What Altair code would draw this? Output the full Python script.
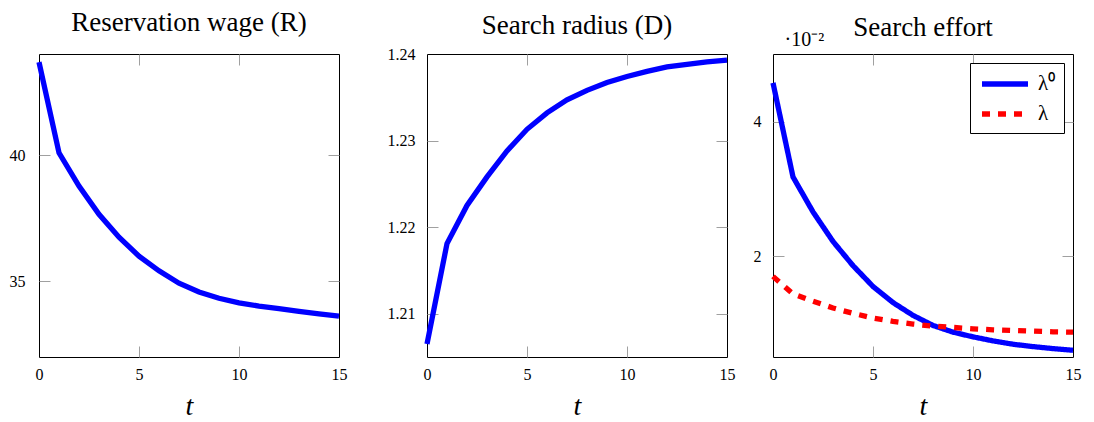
import altair as alt
import pandas as pd

# ---- data ----
t = list(range(16))
reservation_wage = [43.7, 40.1, 38.78, 37.66, 36.75, 36.0, 35.42, 34.93,
                    34.58, 34.33, 34.15, 34.02, 33.92, 33.81, 33.71, 33.62]
search_radius = [1.2065, 1.2181, 1.2225, 1.2258, 1.2288, 1.2313, 1.2332, 1.2347,
                 1.2358, 1.2367, 1.2374, 1.2380, 1.2385, 1.2388, 1.2391, 1.2393]
effort_lambda0 = [0.0458, 0.0318, 0.0266, 0.0222, 0.0186, 0.0155, 0.0131, 0.0112,
                  0.0097, 0.0087, 0.0080, 0.0074, 0.0069, 0.00655, 0.00625, 0.0060]
effort_lambda = [0.0170, 0.0144, 0.0133, 0.0123, 0.0115, 0.0108, 0.0103, 0.0099,
                 0.0096, 0.0094, 0.0092, 0.00905, 0.00895, 0.00885, 0.00875, 0.0087]
series_names = ["λ⁰", "λ"]
titles = ["Reservation wage (R)", "Search radius (D)", "Search effort"]
x_ticks = [0, 5, 10, 15]

SERIF = "Liberation Serif"
W, H = 300, 303
TICK = "#a0a0a0"
LBL = 16


def x_axis():
    return alt.Axis(
        values=x_ticks, title="t", titleFont=SERIF, titleFontStyle="italic",
        titleFontWeight="normal", titleFontSize=28, titleColor="black",
        titleBaseline="alphabetic", titleAlign="center", titleX=W / 2, titleY=57,
        labelFont=SERIF, labelFontSize=LBL, labelColor="black", labelPadding=9,
        labelFlush=False, labelOverlap=False,
        ticks=False, domain=False, grid=True, gridColor=TICK, gridWidth=1,
        gridDash=[11, H - 22, 11, 2000],
        gridOpacity={"condition": {"test": "datum.value <= 0 || datum.value >= 15", "value": 0}, "value": 1},
    )


def y_axis(vals, lo, hi, expr=None, pad=12, **kw):
    args = dict(
        values=vals, labelFont=SERIF, labelFontSize=LBL, labelColor="black", labelPadding=pad,
        ticks=False, domain=False, grid=True, gridColor=TICK, gridWidth=1,
        gridDash=[11, W - 22, 11, 2000], labelOverlap=False,
        gridOpacity={"condition": {"test": f"datum.value <= {lo} || datum.value >= {hi}", "value": 0}, "value": 1},
    )
    if expr:
        args["labelExpr"] = expr
    args.update(kw)
    return alt.Axis(**args)


def title(text, offset):
    return alt.TitleParams(text, font=SERIF, fontSize=27, fontWeight="normal", color="black",
                           anchor="middle", frame="group", baseline="alphabetic", offset=offset)


xenc = alt.X("t:Q", scale=alt.Scale(domain=[0, 15], nice=False, zero=False), axis=x_axis())

df1 = pd.DataFrame({"t": t, "v": reservation_wage})
p1 = alt.Chart(df1).mark_line(color="#0000ff", strokeWidth=5.3).encode(
    x=xenc,
    y=alt.Y("v:Q", title=None, scale=alt.Scale(domain=[32, 44.02], nice=False, zero=False),
            axis=y_axis([35, 40], 32, 44.02, pad=14)),
).properties(width=W, height=H, title=title(titles[0], -7))

df2 = pd.DataFrame({"t": t, "v": search_radius})
p2 = alt.Chart(df2).mark_line(color="#0000ff", strokeWidth=5.3).encode(
    x=xenc,
    y=alt.Y("v:Q", title=None, scale=alt.Scale(domain=[1.205, 1.24], nice=False, zero=False),
            axis=y_axis([1.21, 1.22, 1.23, 1.24], 1.205, 1.2399, expr="format(datum.value, '.2f')")),
).properties(width=W, height=H, title=title(titles[1], -15))

df3 = pd.concat([
    pd.DataFrame({"t": t, "v": effort_lambda0, "series": series_names[0]}),
    pd.DataFrame({"t": t, "v": effort_lambda, "series": series_names[1]}),
])
leg = alt.Legend(title=None, orient="top-right", offset=9, padding=8, strokeColor="black",
                 fillColor="white", cornerRadius=0, symbolType="M-2.3,0H2.3", symbolSize=400,
                 symbolOffset=14, symbolStrokeWidth=5.3, labelFont=SERIF, labelFontSize=21,
                 labelColor="black", labelOffset=20, rowPadding=6)
p3 = alt.Chart(df3).mark_line(strokeWidth=5.3).encode(
    x=xenc,
    y=alt.Y("v:Q", scale=alt.Scale(domain=[0.005, 0.0501], nice=False, zero=False),
            axis=y_axis([0.02, 0.04], 0.005, 0.0501, expr="format(datum.value * 100, 'd')",
                        title="·10⁻²", titleAngle=0, titleX=11, titleY=-9, titleAlign="left",
                        titleBaseline="alphabetic", titleFont=SERIF, titleFontSize=20,
                        titleFontWeight="normal", titleColor="black")),
    color=alt.Color("series:N", scale=alt.Scale(domain=series_names, range=["#0000ff", "#ff0000"]),
                    legend=leg),
    strokeDash=alt.StrokeDash("series:N", scale=alt.Scale(domain=series_names, range=[[1, 0], [8, 8]]),
                              legend=leg),
).properties(width=W, height=H, title=title(titles[2], -34))

inner = alt.hconcat(p1, p2, spacing=35)
chart = alt.hconcat(inner, p3, spacing=13).resolve_legend(
    color="independent", strokeDash="independent").properties(padding=0).configure_view(
    stroke="black", strokeWidth=1)

chart.save("out.html", embed_options={"renderer": "svg", "actions": False})
